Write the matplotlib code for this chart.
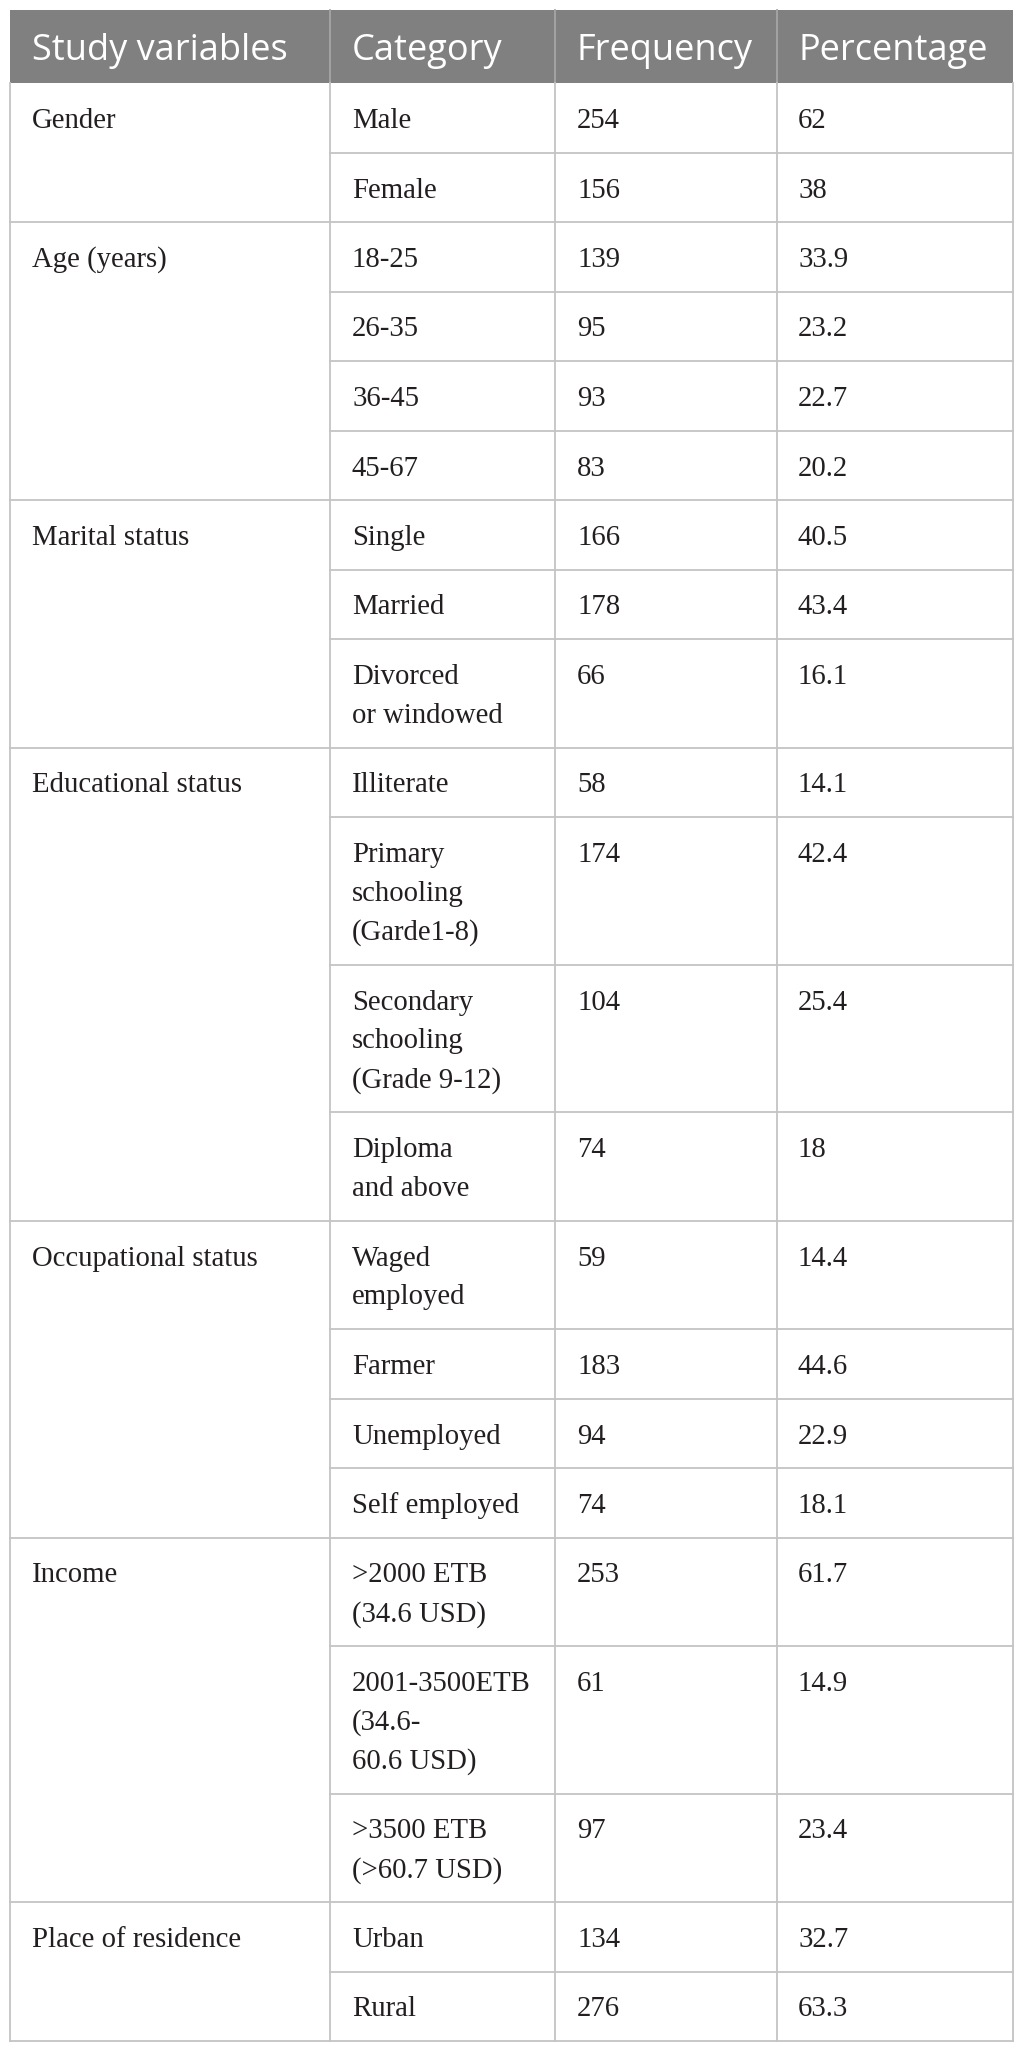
import matplotlib
matplotlib.use("Agg")
import matplotlib.pyplot as plt
from matplotlib.patches import Rectangle

# ======================
# TABLE DATA
# ======================
headers = ["Study variables", "Category", "Frequency", "Percentage"]

variables = ["Gender", "Age (years)", "Marital status", "Educational status",
             "Occupational status", "Income", "Place of residence"]

categories = [
    ["Male", "Female"],
    ["18-25", "26-35", "36-45", "45-67"],
    ["Single", "Married", "Divorced\nor windowed"],
    ["Illiterate", "Primary\nschooling\n(Garde1-8)",
     "Secondary\nschooling\n(Grade 9-12)", "Diploma\nand above"],
    ["Waged\nemployed", "Farmer", "Unemployed", "Self employed"],
    [">2000 ETB\n(34.6 USD)", "2001-3500ETB\n(34.6-\n60.6 USD)",
     ">3500 ETB\n(>60.7 USD)"],
    ["Urban", "Rural"],
]

frequency = [
    ["254", "156"],
    ["139", "95", "93", "83"],
    ["166", "178", "66"],
    ["58", "174", "104", "74"],
    ["59", "183", "94", "74"],
    ["253", "61", "97"],
    ["134", "276"],
]

percentage = [
    ["62", "38"],
    ["33.9", "23.2", "22.7", "20.2"],
    ["40.5", "43.4", "16.1"],
    ["14.1", "42.4", "25.4", "18"],
    ["14.4", "44.6", "22.9", "18.1"],
    ["61.7", "14.9", "23.4"],
    ["32.7", "63.3"],
]

# ======================
# LAYOUT (pixels)
# ======================
W, H = 1025, 2053
col_x = [10, 330, 555, 777, 1013]
pad_x = 22
top = 10
header_bottom = 83
row_base = 69.5
line_step = 39
first_baseline = 45

header_bg = "#808080"
header_sep = "#a6a6a6"
grid = "#c4c4c4"
text_col = "#231f20"
lw = 1.3

body_font = dict(family="Liberation Serif", size=20.7, color=text_col)
head_font = dict(family="Open Sans", size=26, color="white")

fig = plt.figure(figsize=(W / 100, H / 100), dpi=100)
ax = fig.add_axes([0, 0, 1, 1])
ax.set_xlim(0, W)
ax.set_ylim(H, 0)
ax.axis("off")

# header
ax.add_patch(Rectangle((col_x[0], top), col_x[-1] - col_x[0],
                       header_bottom - top, facecolor=header_bg,
                       edgecolor="none"))
for x in col_x[1:-1]:
    ax.plot([x, x], [top, header_bottom], color=header_sep, lw=lw)
for i, h in enumerate(headers):
    ax.text(col_x[i] + pad_x, top + 50, h, va="baseline", ha="left",
            **head_font)


def draw_lines(x, y, txt):
    for k, line in enumerate(txt.split("\n")):
        ax.text(x, y + first_baseline + k * line_step, line,
                va="baseline", ha="left", **body_font)


# body
y = header_bottom
for g, var in enumerate(variables):
    group_top = y
    draw_lines(col_x[0] + pad_x, group_top, var)
    cats = categories[g]
    for r, cat in enumerate(cats):
        n = cat.count("\n") + 1
        h = row_base + (n - 1) * line_step
        draw_lines(col_x[1] + pad_x, y, cat)
        draw_lines(col_x[2] + pad_x, y, frequency[g][r])
        draw_lines(col_x[3] + pad_x - 1, y, percentage[g][r])
        y += h
        if r < len(cats) - 1:
            ax.plot([col_x[1], col_x[-1]], [y, y], color=grid, lw=lw)
    # group separator spans full width
    ax.plot([col_x[0], col_x[-1]], [y, y], color=grid, lw=lw)

bottom = y
for x in col_x:
    ax.plot([x, x], [header_bottom, bottom], color=grid, lw=lw)

fig.savefig("out.png", dpi=100, facecolor="white")
plt.close(fig)
